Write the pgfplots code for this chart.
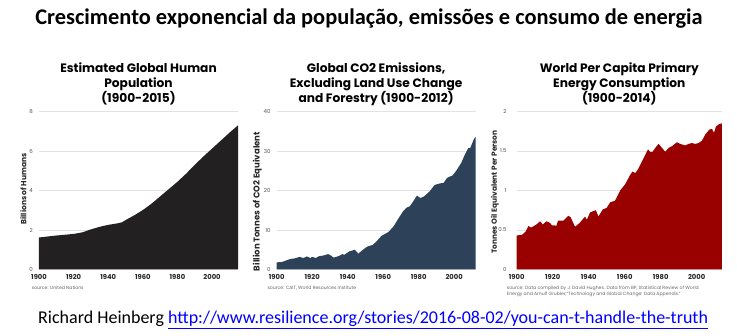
\documentclass[border=0pt]{standalone}
\usepackage{pgfplots}
\pgfplotsset{compat=1.18}
\usepackage{fontspec}
\setmainfont{Poppins}
\newfontfamily\carlito{Carlito}
\definecolor{popc}{HTML}{222021}
\definecolor{co2c}{HTML}{2D4158}
\definecolor{enc}{HTML}{990000}
\definecolor{gridc}{HTML}{E2E2E2}
\definecolor{tickc}{HTML}{555555}
\definecolor{srcc}{HTML}{666666}
\definecolor{linkc}{HTML}{0000FF}
\pgfplotsset{
  panel/.style={
    scale only axis,
    anchor=south west,
    height=158pt,
    xmin=1900, ymin=0,
    axis line style={draw=none},
    major tick length=0pt,
    ymajorgrids,
    grid style={gridc, line width=0.8pt},
    xtick={1900,1920,1940,1960,1980,2000},
    xticklabels={1900,1920,1940,1960,1980,2000},
    /pgf/number format/assume math mode=true,
    xticklabel style={font=\fontsize{6.8}{7}\selectfont\bfseries, text=black!85, inner sep=0pt, anchor=north, yshift=-5.2pt},
    yticklabel style={font=\fontsize{5.5}{6}\selectfont, text=tickc, inner sep=0pt, anchor=east},
    ylabel style={font=\fontsize{7.5}{8}\selectfont\bfseries, text=black!85, anchor=center},
    title style={font=\fontsize{12.2}{15}\selectfont\bfseries, align=center, anchor=south, inner sep=0pt, at={(axis description cs:0.5,1)}, yshift=0pt},
  }
}
\begin{document}
\begin{tikzpicture}
\useasboundingbox (0,0) rectangle (737pt,336pt);
\node[font=\carlito\bfseries\fontsize{22.4}{26}\selectfont, anchor=base] at (369pt,311pt) {Crescimento exponencial da população, emissões e consumo de energia};
\node[font=\carlito\fontsize{18}{21}\selectfont, anchor=base west, inner sep=0pt] at (38pt,12pt) {Richard Heinberg \textcolor{linkc}{\underline{http://www.resilience.org/stories/2016-08-02/you-can-t-handle-the-truth}}};

% Panel 1
\begin{axis}[panel, name=ax1, at={(39pt,66.5pt)}, width=199pt, xmax=2015, ymax=8,
  ytick={0,2,4,6,8}, yticklabels={0,2,4,6,8},
  yticklabel style={xshift=-6pt},
  ylabel={Billions of Humans},
  ylabel style={at={(axis description cs:-0.079,0.51)}},
  title={Estimated Global Human\\Population\\(1900-2015)}]
\addplot[fill=popc, draw=none] table {
1900 1.62
1905 1.67
1910 1.72
1915 1.76
1920 1.80
1925 1.88
1930 2.03
1935 2.16
1940 2.26
1945 2.33
1948 2.39
1950 2.50
1955 2.74
1960 3.01
1965 3.33
1970 3.70
1975 4.07
1980 4.44
1985 4.85
1990 5.30
1995 5.72
2000 6.12
2005 6.52
2010 6.92
2015 7.30
} \closedcycle;
\end{axis}

% Panel 2
\begin{axis}[panel, name=ax2, at={(276.7pt,66.5pt)}, width=198.8pt, xmax=2012, ymax=40,
  ytick={0,10,20,30,40}, yticklabels={0,10,20,30,40},
  yticklabel style={xshift=-6pt},
  ylabel={Billion Tonnes of CO2 Equivalent},
  ylabel style={at={(axis description cs:-0.097,0.43)}, font=\fontsize{8.5}{9}\selectfont\bfseries},
  title={Global CO2 Emissions,\\Excluding Land Use Change\\and Forestry (1900-2012)}]
\addplot[fill=co2c, draw=none] table {
1900 1.8
1903 1.9
1906 2.4
1908 2.7
1910 2.8
1913 3.2
1915 2.9
1917 3.3
1919 2.9
1920 3.2
1922 2.9
1924 3.4
1926 3.5
1929 3.9
1931 3.4
1932 3.0
1935 3.4
1937 3.9
1938 3.7
1941 4.6
1944 5.0
1946 4.0
1948 4.8
1951 5.8
1954 6.2
1956 7.0
1959 8.5
1963 9.5
1966 11.0
1968 12.5
1971 14.6
1973 15.6
1975 16.0
1977 17.3
1979 18.7
1981 18.1
1983 18.5
1986 19.7
1989 21.4
1992 21.8
1994 21.9
1996 23.2
1999 23.8
2001 24.9
2004 27.0
2006 29.1
2008 30.8
2009 30.7
2011 32.9
2012 33.6
} \closedcycle;
\end{axis}

% Panel 3
\begin{axis}[panel, name=ax3, at={(516.7pt,66.5pt)}, width=205.2pt, xmax=2014, ymax=2,
  ytick={0,0.5,1,1.5,2}, yticklabels={0,0.5,1,1.5,2},
  yticklabel style={xshift=-10pt},
  ylabel={Tonnes Oil Equivalent Per Person},
  ylabel style={at={(axis description cs:-0.106,0.49)}, font=\fontsize{7.4}{8}\selectfont\bfseries},
  title={World Per Capita Primary\\Energy Consumption\\(1900-2014)}]
\addplot[fill=enc, draw=none] table {
1900 0.43
1903 0.44
1905 0.48
1906.5 0.55
1908 0.53
1911 0.57
1913 0.61
1914.5 0.57
1916.5 0.61
1918.5 0.59
1919.5 0.56
1921 0.56
1922 0.55
1923 0.62
1926 0.62
1928.7 0.68
1930 0.66
1932.4 0.54
1935 0.59
1938 0.67
1939 0.63
1940.7 0.72
1942.6 0.74
1944 0.75
1945.4 0.67
1947.8 0.76
1950 0.78
1951.9 0.85
1954.6 0.87
1957.5 1.00
1960.3 1.08
1963.1 1.20
1964.4 1.24
1965.9 1.22
1967.7 1.28
1970.5 1.41
1972.9 1.52
1974.2 1.49
1975.5 1.49
1977 1.54
1978.8 1.59
1980.7 1.54
1982.5 1.49
1984.4 1.54
1986.2 1.56
1989 1.61
1990.9 1.59
1993.6 1.57
1995.5 1.59
1997.3 1.60
1999.2 1.59
2001 1.60
2002.9 1.63
2004.8 1.71
2007 1.77
2008.5 1.78
2009.6 1.73
2010.7 1.81
2012.5 1.84
2014 1.85
} \closedcycle;
\end{axis}

\node[anchor=west, inner sep=0pt, font=\fontsize{4.6}{5.5}\selectfont, text=srcc] at ([xshift=-7.3pt, yshift=-18.2pt]ax1.south west) {source: United Nations};
\node[anchor=west, inner sep=0pt, font=\fontsize{4.6}{5.5}\selectfont, text=srcc] at ([xshift=-9.4pt, yshift=-18.2pt]ax2.south west) {source: CAIT, World Resources Institute};
\node[anchor=north west, align=left, inner sep=0pt, font=\fontsize{4.6}{6}\selectfont, text=srcc] at ([xshift=-10pt, yshift=-15.8pt]ax3.south west) {source: Data compiled by J. David Hughes. Data from BP, Statistical Review of World\\Energy and Arnulf Grubler,“Technology and Global Change: Data Appendix.”};
\end{tikzpicture}
\end{document}
